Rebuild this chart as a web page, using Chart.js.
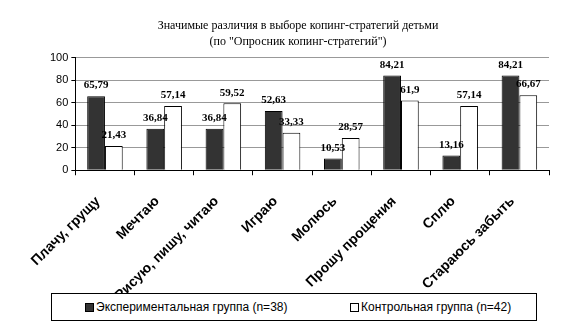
<!DOCTYPE html>
<html>
<head>
<meta charset="utf-8">
<script src="https://cdn.jsdelivr.net/npm/chart.js@4"></script>
<style>
  html, body { margin: 0; padding: 0; background: #fff; }
  #wrap { position: relative; width: 575px; height: 335px; }
  #legend {
    position: absolute; left: 51px; top: 293px; width: 484px; height: 26px;
    border: 1px solid #000; background: #fff;
    font: 12px "Liberation Sans", Arial, sans-serif; color: #000;
    display: flex; align-items: center;
  }
  #legend span.item { display: flex; align-items: center; position: absolute; }
  #legend i { display: inline-block; width: 7px; height: 7px; border: 1px solid #000; margin-right: 2px; }
</style>
</head>
<body>
<div id="wrap">
  <canvas id="mychart" width="575" height="335"></canvas>
  <div id="legend"></div>
</div>
<script>
const categorias = ['Плачу, грущу', 'Мечтаю', 'Рисую, пишу, читаю', 'Играю', 'Молюсь', 'Прошу прощения', 'Сплю', 'Стараюсь забыть'];
const experimental = [65.79, 36.84, 36.84, 52.63, 10.53, 84.21, 13.16, 84.21];
const control = [21.43, 57.14, 59.52, 33.33, 28.57, 61.9, 57.14, 66.67];
const seriesNames = ['Экспериментальная группа (n=38)', 'Контрольная группа (n=42)'];
const yTicks = [0, 20, 40, 60, 80, 100];
const titulo = ['Значимые различия в выборе копинг-стратегий детьми', '(по "Опросник копинг-стратегий")'];

// etiquetas de valor encima de cada barra
const valueLabels = {
    id: 'valueLabels',
    afterDatasetsDraw(chart) {
        const ctx = chart.ctx;
        ctx.save();
        ctx.font = 'bold 11px "Liberation Serif", "Times New Roman", serif';
        ctx.fillStyle = '#000';
        ctx.textAlign = 'center';
        ctx.textBaseline = 'bottom';
        chart.data.datasets.forEach((ds, i) => {
            chart.getDatasetMeta(i).data.forEach((bar, j) => {
                ctx.fillText(String(ds.data[j]).replace('.', ','), bar.x, bar.y - 5);
            });
        });
        ctx.restore();
    }
};

const canvas = document.getElementById('mychart');
const grafico = new Chart(canvas, {
    type: 'bar',
    data: {
        labels: categorias,
        datasets: [
            {
                label: seriesNames[0],
                data: experimental,
                backgroundColor: '#333333',
                borderColor: '#000',
                borderWidth: 1
            },
            {
                label: seriesNames[1],
                data: control,
                backgroundColor: '#ffffff',
                borderColor: '#000',
                borderWidth: 1
            }
        ]
    },
    options: {
        responsive: false,
        animation: false,
        maintainAspectRatio: false,
        layout: { padding: { left: 47, right: 26, top: 0, bottom: 13 } },
        datasets: { bar: { categoryPercentage: 0.6, barPercentage: 1 } },
        plugins: {
            legend: { display: false },
            tooltip: { enabled: false },
            title: {
                display: true,
                text: titulo,
                color: '#000',
                font: { family: '"Liberation Serif", "Times New Roman", serif', size: 12, weight: 'normal', lineHeight: 1.4 },
                padding: { top: 17, bottom: 7 }
            }
        },
        scales: {
            y: {
                min: 0,
                max: 100,
                afterBuildTicks: axis => { axis.ticks = yTicks.map(v => ({ value: v })); },
                ticks: {
                    color: '#000',
                    font: { family: '"Liberation Sans", Arial, sans-serif', size: 11 },
                    padding: 3
                },
                grid: {
                    color: '#999',
                    borderDash: [2, 2],
                    tickLength: 4,
                    tickColor: '#000',
                    tickBorderDash: []
                },
                border: { color: '#000', dash: [] }
            },
            x: {
                ticks: {
                    color: '#000',
                    maxRotation: 45,
                    minRotation: 45,
                    autoSkip: false,
                    labelOffset: -7,
                    font: { family: '"Liberation Sans", Arial, sans-serif', size: 14, weight: 'bold' },
                    padding: 18
                },
                grid: {
                    drawOnChartArea: false,
                    drawTicks: true,
                    tickLength: 5,
                    tickColor: '#000'
                },
                border: { color: '#000' }
            }
        }
    },
    plugins: [valueLabels]
});

// leyenda en caja, como en el original
const legend = document.getElementById('legend');
const offsets = [33, 298];
grafico.data.datasets.forEach((ds, i) => {
    const item = document.createElement('span');
    item.className = 'item';
    item.style.left = offsets[i] + 'px';
    const box = document.createElement('i');
    box.style.background = ds.backgroundColor;
    item.appendChild(box);
    item.appendChild(document.createTextNode(ds.label));
    legend.appendChild(item);
});
</script>
</body>
</html>
